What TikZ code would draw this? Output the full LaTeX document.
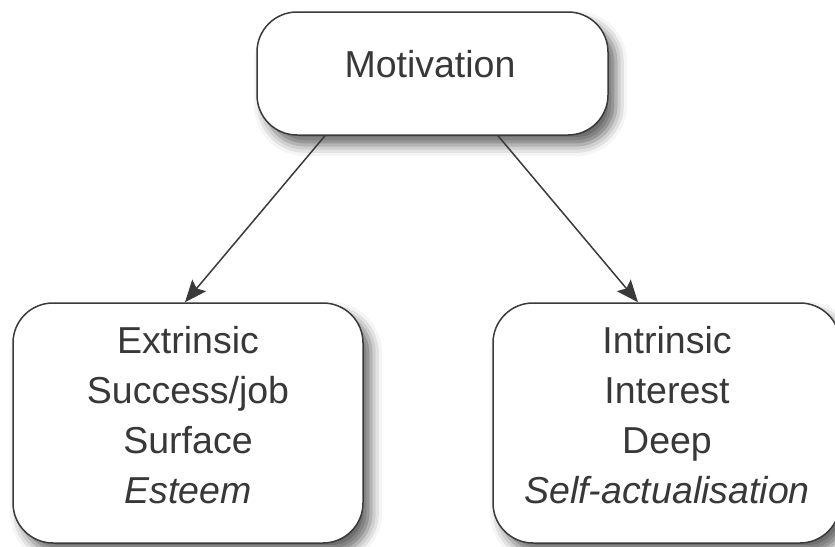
\documentclass[tikz,border=0pt]{standalone}
\usepackage{fontspec}
\setmainfont{Liberation Sans}
\usetikzlibrary{arrows.meta,shadows.blur,calc}
\definecolor{lineg}{HTML}{3A3A3A}
\definecolor{textg}{HTML}{383838}
\tikzset{
  box/.style={draw=lineg, line width=1.5pt, fill=white, rounded corners=40pt,
    rectangle, inner sep=0pt,
    blur shadow={shadow xshift=8pt, shadow yshift=-10pt, shadow blur radius=11pt, shadow opacity=60}},
  txt/.style={anchor=base, inner sep=0pt, text=textg, font=\fontsize{37.5}{45}\selectfont},
  arr/.style={draw=lineg, line width=1.5pt, -{Stealth[length=22pt,width=18pt,inset=4pt]}}
}
\begin{document}
\begin{tikzpicture}[x=1pt,y=-1pt]
\useasboundingbox (0,0) rectangle (835,546);
\node[box, minimum width=351pt, minimum height=123pt] (top) at (432.5,73.5) {};
\node[box, minimum width=350pt, minimum height=240pt] (left) at (188,423) {};
\node[box, minimum width=347pt, minimum height=240pt] (right) at (666.5,423) {};
\node[txt] (mot) at (430,77) {Motivation};
\node[txt] (l1) at (188,353) {Extrinsic};
\node[txt] (l2) at (188,403) {Success/job};
\node[txt] (l3) at (188,453) {Surface};
\node[txt] (l4) at (188,503) {\itshape Esteem};
\node[txt] (r1) at (667,353) {Intrinsic};
\node[txt] (r2) at (667,403) {Interest};
\node[txt] (r3) at (667,453) {Deep};
\node[txt] (r4) at (667,503) {\itshape Self-actualisation};
\draw[arr] ($(top.south)+(-107.5,0)$) -- ($(left.north)+(-3,0)$);
\draw[arr] ($(top.south)+(65.5,0)$) -- ($(right.north)+(-28.5,0)$);
\end{tikzpicture}
\end{document}
